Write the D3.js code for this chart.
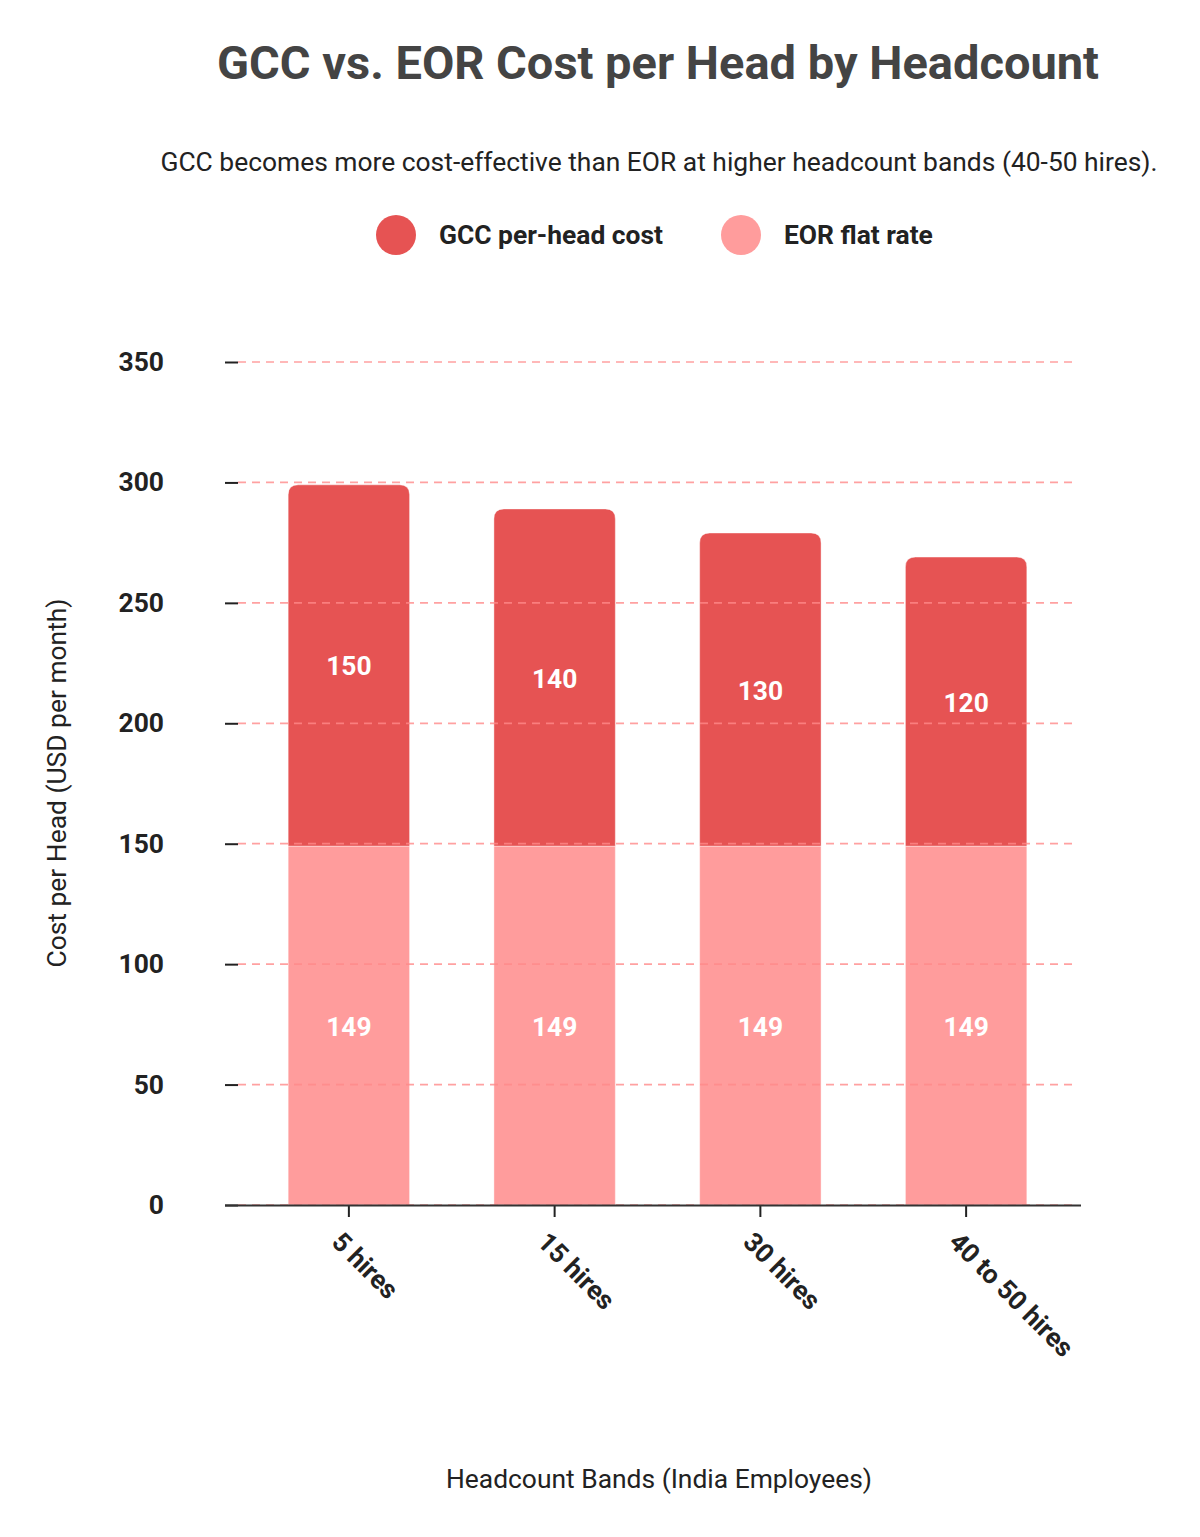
<!DOCTYPE html>
<html>
<head>
<meta charset="utf-8">
<script src="https://cdn.jsdelivr.net/npm/d3@7"></script>
<style>
  body { margin: 0; background: #fff; }
  text { font-family: Roboto, "Noto Sans", sans-serif; }
</style>
</head>
<body>
<div id="chart"></div>
<script>
// chart data
var bands = ["5 hires", "15 hires", "30 hires", "40 to 50 hires"];
var gccCost = [150, 140, 130, 120];
var eorRate = [149, 149, 149, 149];
var yTicks = [0, 50, 100, 150, 200, 250, 300, 350];

var width = 1200;
var height = 1537;

var gccColor = "#e65353";
var eorColor = "#ff9c9c";
var fs = 26.4;

var svg = d3.select("#chart").append("svg")
  .attr("width", width)
  .attr("height", height);

// title + subtitle
svg.append("text")
  .attr("x", 658).attr("y", 79)
  .attr("text-anchor", "middle")
  .attr("font-size", 47).attr("font-weight", 700)
  .attr("fill", "#444")
  .text("GCC vs. EOR Cost per Head by Headcount");

svg.append("text")
  .attr("x", 659).attr("y", 171)
  .attr("text-anchor", "middle")
  .attr("font-size", fs)
  .attr("fill", "#222")
  .text("GCC becomes more cost-effective than EOR at higher headcount bands (40-50 hires).");

// legend
var legend = [
  { name: "GCC per-head cost", color: gccColor, x: 396 },
  { name: "EOR flat rate", color: eorColor, x: 741 }
];
var lg = svg.selectAll("g.legend").data(legend).enter().append("g")
  .attr("class", "legend")
  .attr("transform", function(d) { return "translate(" + d.x + ",235)"; });
lg.append("circle").attr("r", 20).attr("fill", function(d) { return d.color; });
lg.append("text")
  .attr("x", 43).attr("y", 9)
  .attr("font-size", fs).attr("font-weight", 700)
  .attr("fill", "#222")
  .text(function(d) { return d.name; });

// scales
var xScale = d3.scaleBand()
  .domain(bands)
  .range([246, 1069])
  .paddingInner(0.41)
  .paddingOuter(0.205);

var yScale = d3.scaleLinear()
  .domain([0, 350])
  .range([1205, 362]);

// build stacked rows
var rows = bands.map(function(b, i) {
  return { band: b, eor: eorRate[i], gcc: gccCost[i] };
});
var stack = d3.stack().keys(["eor", "gcc"])(rows);

// bars
var r = 10;
function topRounded(x, y0, y1, w) {
  // path for a bar with rounded top corners
  return "M" + x + "," + y0 +
    "V" + (y1 + r) +
    "Q" + x + "," + y1 + " " + (x + r) + "," + y1 +
    "H" + (x + w - r) +
    "Q" + (x + w) + "," + y1 + " " + (x + w) + "," + (y1 + r) +
    "V" + y0 + "Z";
}

stack.forEach(function(layer) {
  var color = layer.key === "gcc" ? gccColor : eorColor;
  var g = svg.append("g");
  g.selectAll("path").data(layer).enter().append("path")
    .attr("d", function(d) {
      var x = xScale(d.data.band);
      var w = xScale.bandwidth();
      if (layer.key === "gcc") return topRounded(x, yScale(d[0]), yScale(d[1]), w);
      return "M" + x + "," + yScale(d[0]) + "V" + yScale(d[1]) + "H" + (x + w) + "V" + yScale(d[0]) + "Z";
    })
    .attr("fill", color)
    .attr("stroke", "#fff")
    .attr("stroke-opacity", 0.4)
    .attr("stroke-width", 1);

  g.selectAll("text").data(layer).enter().append("text")
    .attr("x", function(d) { return xScale(d.data.band) + xScale.bandwidth() / 2; })
    .attr("y", function(d) { return (yScale(d[0]) + yScale(d[1])) / 2 + 10; })
    .attr("text-anchor", "middle")
    .attr("font-size", fs).attr("font-weight", 700)
    .attr("fill", "#fff")
    .text(function(d) { return d.data[layer.key]; });
});

// dashed gridlines drawn over bars
svg.append("g").selectAll("line").data(yTicks).enter().append("line")
  .attr("x1", 238).attr("x2", 1075)
  .attr("y1", function(d) { return yScale(d); })
  .attr("y2", function(d) { return yScale(d); })
  .attr("stroke", "#ff8a8a")
  .attr("stroke-opacity", 0.8)
  .attr("stroke-width", 1.7)
  .attr("stroke-dasharray", "8,6");

// y axis
var yAxis = d3.axisLeft(yScale).tickValues(yTicks).tickSize(13).tickPadding(61);
var yG = svg.append("g")
  .attr("transform", "translate(238,0)")
  .call(yAxis);
yG.select(".domain").remove();
yG.selectAll(".tick line").attr("stroke", "#222").attr("stroke-width", 2);
yG.selectAll(".tick text")
  .attr("font-size", fs).attr("font-weight", 700)
  .attr("fill", "#222")
  .attr("font-family", "Roboto, sans-serif");

// x axis
var xAxis = d3.axisBottom(xScale).tickSize(12);
var xG = svg.append("g")
  .attr("transform", "translate(0,1205)")
  .call(xAxis);
xG.select(".domain").remove();
xG.selectAll(".tick line").attr("stroke", "#222").attr("stroke-width", 2);
xG.selectAll(".tick text")
  .attr("font-size", fs).attr("font-weight", 700)
  .attr("fill", "#222")
  .attr("font-family", "Roboto, sans-serif")
  .attr("text-anchor", "start")
  .attr("y", 0)
  .attr("dy", "0.35em")
  .attr("transform", "translate(-12,32) rotate(45)");

svg.append("line")
  .attr("x1", 225).attr("x2", 1081)
  .attr("y1", 1205.5).attr("y2", 1205.5)
  .attr("stroke", "#333").attr("stroke-width", 2);

// axis titles
svg.append("text")
  .attr("transform", "translate(66,783) rotate(-90)")
  .attr("text-anchor", "middle")
  .attr("font-size", fs)
  .attr("fill", "#222")
  .text("Cost per Head (USD per month)");

svg.append("text")
  .attr("x", 659).attr("y", 1488)
  .attr("text-anchor", "middle")
  .attr("font-size", fs)
  .attr("fill", "#222")
  .text("Headcount Bands (India Employees)");
</script>
</body>
</html>
